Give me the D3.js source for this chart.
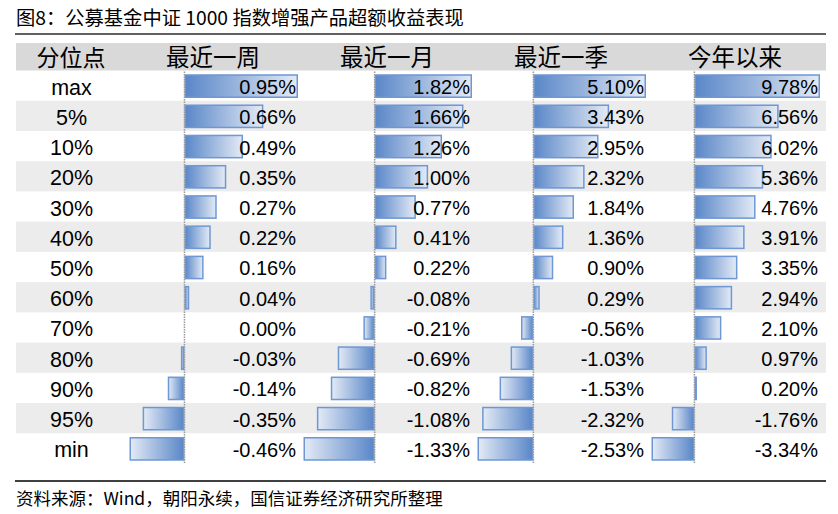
<!DOCTYPE html>
<html><head><meta charset="utf-8">
<script src="https://cdn.jsdelivr.net/npm/d3@7"></script>
<style>body{margin:0;background:#fff;}svg{display:block;}</style>
</head><body>
<script>
const title = "图8：公募基金中证 1000 指数增强产品超额收益表现";
const source = "资料来源：Wind，朝阳永续，国信证券经济研究所整理";
const headerLabel = "分位点";
const periods = ["最近一周", "最近一月", "最近一季", "今年以来"];
const quantiles = ["max", "5%", "10%", "20%", "30%", "40%", "50%", "60%", "70%", "80%", "90%", "95%", "min"];
const week = [0.95, 0.66, 0.49, 0.35, 0.27, 0.22, 0.16, 0.04, 0.00, -0.03, -0.14, -0.35, -0.46];
const month = [1.82, 1.66, 1.26, 1.00, 0.77, 0.41, 0.22, -0.08, -0.21, -0.69, -0.82, -1.08, -1.33];
const season = [5.10, 3.43, 2.95, 2.32, 1.84, 1.36, 0.90, 0.29, -0.56, -1.03, -1.53, -2.32, -2.53];
const ytd = [9.78, 6.56, 6.02, 5.36, 4.76, 3.91, 3.35, 2.94, 2.10, 0.97, 0.20, -1.76, -3.34];
const series = [week, month, season, ytd];

const W = 838, H = 514;
const svg = d3.select("body").append("svg").attr("width", W).attr("height", H);
const defs = svg.append("defs");
const gPos = defs.append("linearGradient").attr("id", "gpos").attr("x1", "0%").attr("x2", "100%");
gPos.append("stop").attr("offset", "0%").attr("stop-color", "#5a87c8");
gPos.append("stop").attr("offset", "100%").attr("stop-color", "#e3eaf5");
const gNeg = defs.append("linearGradient").attr("id", "gneg").attr("x1", "0%").attr("x2", "100%");
gNeg.append("stop").attr("offset", "0%").attr("stop-color", "#e3eaf5");
gNeg.append("stop").attr("offset", "100%").attr("stop-color", "#5a87c8");

const fontLatin = "'Liberation Sans', Arial, sans-serif";
const fontCJK = "'Noto Sans CJK SC', sans-serif";

// title
svg.append("text").attr("x", 16).attr("y", 24.5).attr("font-family", fontCJK)
  .attr("font-size", 19.3).attr("fill", "#000").text(title);
svg.append("line").attr("x1", 15).attr("x2", 826).attr("y1", 34).attr("y2", 34)
  .attr("stroke", "#606060").attr("stroke-width", 2);

// layout
const left = 16, right = 826;
const labelColRight = 127;
const colW = 174;
const headerTop = 43, rowTop = 70.5;
const rowH = 30.23;
const y = d3.scaleBand().domain(quantiles).range([rowTop, rowTop + rowH * quantiles.length]).paddingInner(0);
const colX = d3.scaleBand().domain(periods).range([labelColRight, labelColRight + colW * 4]);

// header
svg.append("rect").attr("x", left).attr("y", headerTop).attr("width", right - left).attr("height", rowTop - headerTop)
  .attr("fill", "#d9d9d9");
svg.append("text").attr("x", 71).attr("y", 65.5).attr("text-anchor", "middle").attr("font-family", fontCJK)
  .attr("font-size", 23).attr("fill", "#000").text(headerLabel);
periods.forEach(p => {
  svg.append("text").attr("x", colX(p) + colX.bandwidth() / 2 - 1).attr("y", 65.5).attr("text-anchor", "middle")
    .attr("font-family", fontCJK).attr("font-size", 23.5).attr("fill", "#000").text(p);
});

// rows
quantiles.forEach((q, i) => {
  if (i % 2 === 1) {
    svg.append("rect").attr("x", left).attr("y", y(q)).attr("width", right - left).attr("height", y.bandwidth())
      .attr("fill", "#ececec");
  }
  svg.append("text").attr("x", 71.5).attr("y", y(q) + y.bandwidth() / 2 + 9).attr("text-anchor", "middle")
    .attr("font-family", fontLatin).attr("font-size", 21.5).attr("fill", "#000").text(q);
});

// bars per column
periods.forEach((p, c) => {
  const vals = series[c];
  const x0 = colX(p);
  const x = d3.scaleLinear().domain([d3.min(vals), d3.max(vals)]).range([x0 + 2.5, x0 + colW - 3]);
  const g = svg.append("g");
  vals.forEach((v, i) => {
    const q = quantiles[i];
    const a = x(0), b = x(v);
    const bx = Math.min(a, b), bw = Math.abs(b - a);
    const by = y(q) + 4.5, bh = y.bandwidth() - 8;
    if (bw > 0.01) {
      g.append("rect").attr("x", bx + 0.75).attr("y", by).attr("width", Math.max(bw - 1.5, 0.5)).attr("height", bh)
        .attr("fill", v >= 0 ? "url(#gpos)" : "url(#gneg)")
        .attr("stroke", "#6e97d3").attr("stroke-width", 1.5);
    }
  });
  // axis line
  g.append("line").attr("x1", x(0)).attr("x2", x(0)).attr("y1", rowTop + 1).attr("y2", rowTop + rowH * quantiles.length)
    .attr("stroke", "#9a9a9a").attr("stroke-width", 1.5).attr("stroke-dasharray", "1.5,1");
  vals.forEach((v, i) => {
    const q = quantiles[i];
    g.append("text").attr("x", x0 + colW - 5).attr("y", y(q) + y.bandwidth() / 2 + 8.5).attr("text-anchor", "end")
      .attr("font-family", fontLatin).attr("font-size", 20).attr("fill", "#000").text(v.toFixed(2) + "%");
  });
});

// bottom
svg.append("line").attr("x1", 15).attr("x2", 826).attr("y1", 481).attr("y2", 481)
  .attr("stroke", "#000").attr("stroke-width", 1.5);
svg.append("text").attr("x", 16).attr("y", 504.5).attr("font-family", fontCJK)
  .attr("font-size", 17.5).attr("fill", "#000").text(source);
</script>
</body></html>
